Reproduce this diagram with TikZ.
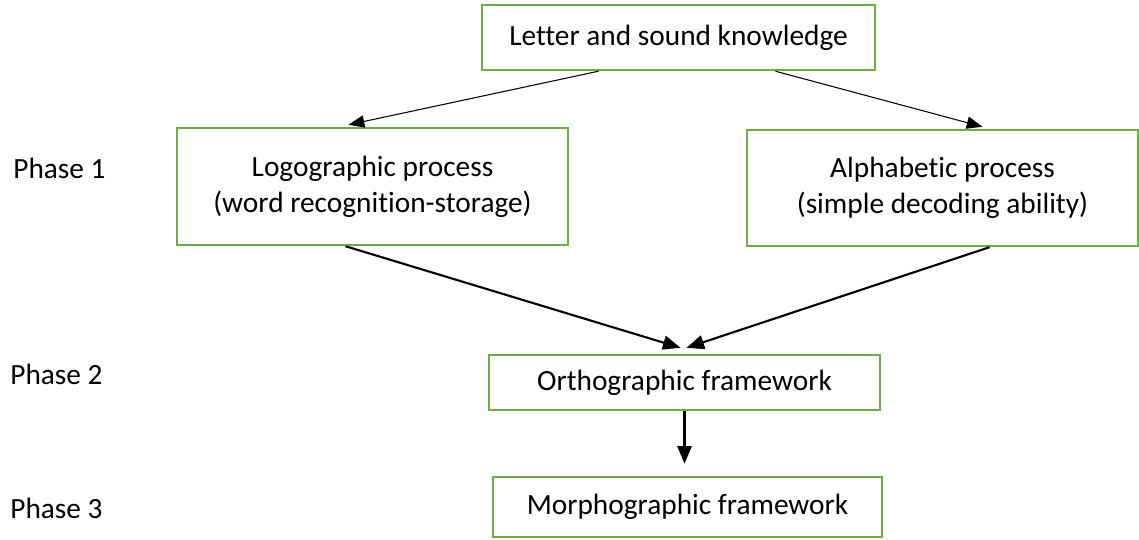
\documentclass[tikz,border=0pt]{standalone}
\usepackage{fontspec}
\setmainfont{Carlito}[Ligatures={NoCommon}]
\usetikzlibrary{arrows.meta,calc}

\tikzset{
  stagebox/.style={draw=boxgreen,line width=1.4pt,fill=white,align=center,
    inner sep=0pt,font=\fontsize{16.7}{20.4}\selectfont},
  phaselabel/.style={anchor=west,inner sep=0pt,font=\fontsize{16.7}{20.4}\selectfont},
  thinarrow/.style={-{Triangle[length=9pt,width=7pt]},line width=0.6pt},
  boldarrow/.style={-{Triangle[length=10pt,width=8pt]},line width=1.2pt}
}
\definecolor{boxgreen}{RGB}{112,173,71}

\begin{document}
\begin{tikzpicture}[x=0.02cm,y=-0.02cm]
    \useasboundingbox (0,0) rectangle (1139,540);
    % boxes
    \node[stagebox,minimum width=7.86cm,minimum height=1.3cm] (letter) at (678.5,37.5) {Letter and sound knowledge};
    \node[stagebox,minimum width=7.82cm,minimum height=2.34cm] (logo) at (372.5,186.5) {Logographic process\\(word recognition-storage)};
    \node[stagebox,minimum width=7.82cm,minimum height=2.32cm] (alpha) at (942.5,188) {Alphabetic process\\(simple decoding ability)};
    \node[stagebox,minimum width=7.82cm,minimum height=1.1cm] (ortho) at (684.5,382.5) {Orthographic framework};
    \node[stagebox,minimum width=7.78cm,minimum height=1.2cm] (morpho) at (687.5,507) {Morphographic framework};
    % phases
    \node[phaselabel] (p1) at (13,168) {Phase 1};
    \node[phaselabel] (p2) at (10,374) {Phase 2};
    \node[phaselabel] (p3) at (10,508) {Phase 3};
    % arrows
    \draw[thinarrow] ($(letter.south)+(-80,0)$) -- ($(logo.north)+(-24,-2)$);
    \draw[thinarrow] ($(letter.south)+(97,0)$) -- ($(alpha.north)+(40,-2)$);
    \draw[boldarrow] ($(logo.south)+(-27,0)$) -- ($(ortho.north)+(-4,-6)$);
    \draw[boldarrow] ($(alpha.south)+(47,0)$) -- ($(ortho.north)+(2,-6)$);
    \draw[boldarrow] (ortho.south) -- ($(morpho.north)+(-3,-12)$);
\end{tikzpicture}
\end{document}
